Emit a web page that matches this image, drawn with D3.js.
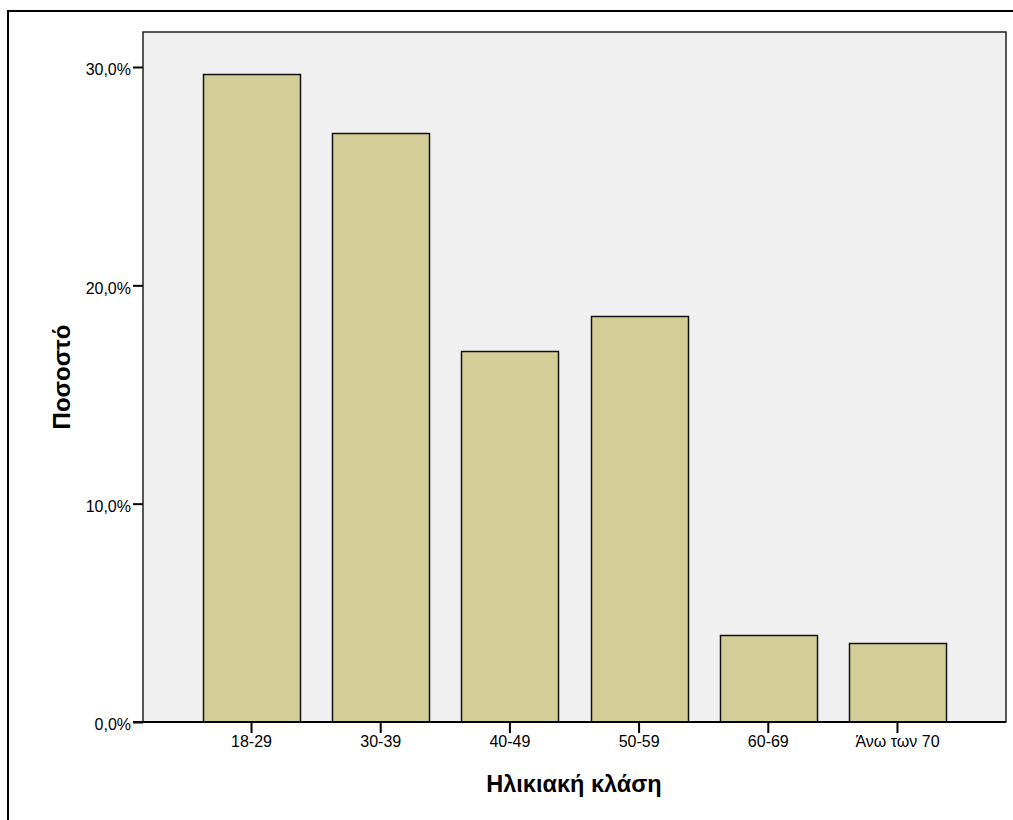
<!DOCTYPE html>
<html>
<head>
<meta charset="utf-8">
<script src="https://cdn.jsdelivr.net/npm/d3@7"></script>
<style>
  html, body { margin: 0; padding: 0; background: #fff; }
  svg { display: block; }
  text { font-family: "Liberation Sans", Arial, sans-serif; fill: #000; }
</style>
</head>
<body>
<svg id="chart" width="1013" height="820"></svg>
<script>
// Age groups and their share of respondents (%)
const categories = ["18-29", "30-39", "40-49", "50-59", "60-69", "Άνω των 70"];
const percents = [29.7, 27.0, 17.0, 18.6, 4.0, 3.6];
const yTicks = [0, 10, 20, 30];
const xTitle = "Ηλικιακή κλάση";
const yTitle = "Ποσοστό";

const svg = d3.select("#chart");
const plot = { left: 143, top: 32, right: 1006, bottom: 722 };

// Outer frame (open to the right and bottom)
svg.append("rect")
  .attr("x", 8).attr("y", 11)
  .attr("width", 1100).attr("height", 900)
  .attr("fill", "#fff").attr("stroke", "#000").attr("stroke-width", 2);

// Plot background
svg.append("rect")
  .attr("x", plot.left).attr("y", plot.top)
  .attr("width", plot.right - plot.left).attr("height", plot.bottom - plot.top)
  .attr("fill", "#f0f0f0").attr("stroke", "#222").attr("stroke-width", 1.5);

const x = d3.scaleBand()
  .domain(categories)
  .range([plot.left, plot.right])
  .paddingInner(0.25)
  .paddingOuter(0.465);

const y = d3.scaleLinear()
  .domain([0, 30])
  .range([plot.bottom, 67]);

const fmt = v => d3.format(".1f")(v).replace(".", ",") + "%";

// Bars
svg.append("g")
  .selectAll("rect")
  .data(categories.map((c, i) => ({ c, v: percents[i] })))
  .join("rect")
  .attr("x", d => Math.round(x(d.c)) + 0.5)
  .attr("y", d => Math.round(y(d.v)) + 0.5)
  .attr("width", Math.round(x.bandwidth()))
  .attr("height", d => plot.bottom - Math.round(y(d.v)) - 0.5)
  .attr("fill", "#d3ce98")
  .attr("stroke", "#111")
  .attr("stroke-width", 1.5);

// Y axis
const yAxis = svg.append("g")
  .attr("transform", `translate(${plot.left},0)`)
  .call(d3.axisLeft(y).tickValues(yTicks).tickFormat(fmt).tickSize(10).tickPadding(2));
yAxis.select(".domain").remove();
yAxis.selectAll(".tick line").attr("stroke", "#000").attr("stroke-width", 2);
yAxis.selectAll(".tick text")
  .attr("font-size", 16).attr("dy", "0.48em")
  .attr("font-family", "Liberation Sans, Arial, sans-serif").attr("fill", "#000");

// X axis
const xAxis = svg.append("g")
  .attr("transform", `translate(0,${plot.bottom})`)
  .call(d3.axisBottom(x).tickSize(11).tickPadding(3));
xAxis.select(".domain").remove();
xAxis.selectAll(".tick line").attr("stroke", "#000").attr("stroke-width", 2);
xAxis.selectAll(".tick text")
  .attr("font-size", 16)
  .attr("font-family", "Liberation Sans, Arial, sans-serif").attr("fill", "#000");

// Bottom baseline of the plot
svg.append("line")
  .attr("x1", plot.left - 10).attr("x2", plot.right)
  .attr("y1", plot.bottom).attr("y2", plot.bottom)
  .attr("stroke", "#000").attr("stroke-width", 2);

// Axis titles
svg.append("text")
  .attr("x", 574)
  .attr("y", 792)
  .attr("text-anchor", "middle")
  .attr("font-size", 23.5).attr("font-weight", "bold")
  .text(xTitle);

svg.append("text")
  .attr("transform", `translate(70,377) rotate(-90)`)
  .attr("text-anchor", "middle")
  .attr("font-size", 24).attr("font-weight", "bold")
  .text(yTitle);
</script>
</body>
</html>
